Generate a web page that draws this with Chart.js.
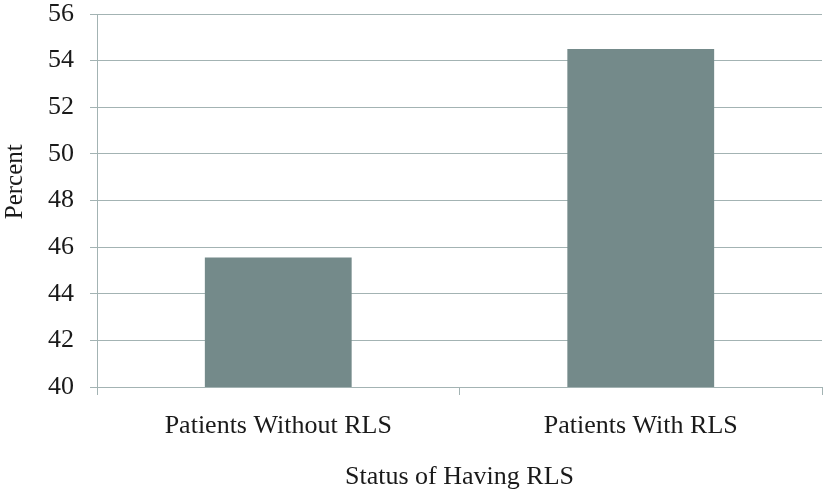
<!DOCTYPE html>
<html>
<head>
<meta charset="utf-8">
<script src="https://cdn.jsdelivr.net/npm/chart.js@4"></script>
<style>
  html, body { margin: 0; padding: 0; background: #fff; }
  #chart_canvas { display: block; }
</style>
</head>
<body>
<canvas id="chart_canvas" width="826" height="504"></canvas>
<script>
// values
const categories = ['Patients Without RLS', 'Patients With RLS'];
const percents = [45.55, 54.5];
const yMin = 40;
const yMax = 56;
const yStep = 2;

const gridColor = '#a3b3b3';
const textColor = '#1a1a1a';
const fontFamily = '"Liberation Serif", "DejaVu Serif", serif';

let ctx = document.getElementById('chart_canvas');

let rlsChart = new Chart(ctx, { // eslint-disable-line no-unused-vars
  type: 'bar',
  data: {
    labels: categories,
    datasets: [{
      label: 'Percent',
      data: percents,
      backgroundColor: '#748a8a',
      categoryPercentage: 0.81,
      barPercentage: 0.5
    }]
  },
  options: {
    responsive: false,
    animation: false,
    layout: { padding: { top: 14, right: 4, left: 0, bottom: 0 } },
    plugins: {
      legend: { display: false },
      tooltip: { enabled: false }
    },
    scales: {
      x: {
        offset: true,
        grid: {
          display: true,
          offset: true,
          drawOnChartArea: false,
          drawTicks: true,
          tickLength: 8,
          color: gridColor
        },
        border: { display: true, color: gridColor },
        ticks: {
          color: textColor,
          padding: 16,
          maxRotation: 0,
          font: { family: fontFamily, size: 26 }
        },
        title: {
          display: true,
          text: 'Status of Having RLS',
          color: textColor,
          font: { family: fontFamily, size: 26 },
          padding: { top: 0, bottom: 11 }
        },
        afterFit: (scale) => {
          scale.height = 117;
          scale.paddingLeft = 0;
          scale.paddingRight = 0;
        }
      },
      y: {
        min: yMin,
        max: yMax,
        grid: {
          color: gridColor,
          drawTicks: true,
          tickLength: 7
        },
        border: { display: true, color: gridColor },
        ticks: {
          stepSize: yStep,
          color: textColor,
          padding: 16,
          font: { family: fontFamily, size: 26 }
        },
        title: {
          display: true,
          // leading spaces nudge the label up, as in the original
          text: '      Percent',
          color: textColor,
          font: { family: fontFamily, size: 25 },
          padding: { top: 0, bottom: 0 }
        },
        afterFit: (scale) => {
          scale.width = 97;
          scale.paddingTop = 0;
          scale.paddingBottom = 0;
        }
      }
    }
  }
});
</script>
</body>
</html>
